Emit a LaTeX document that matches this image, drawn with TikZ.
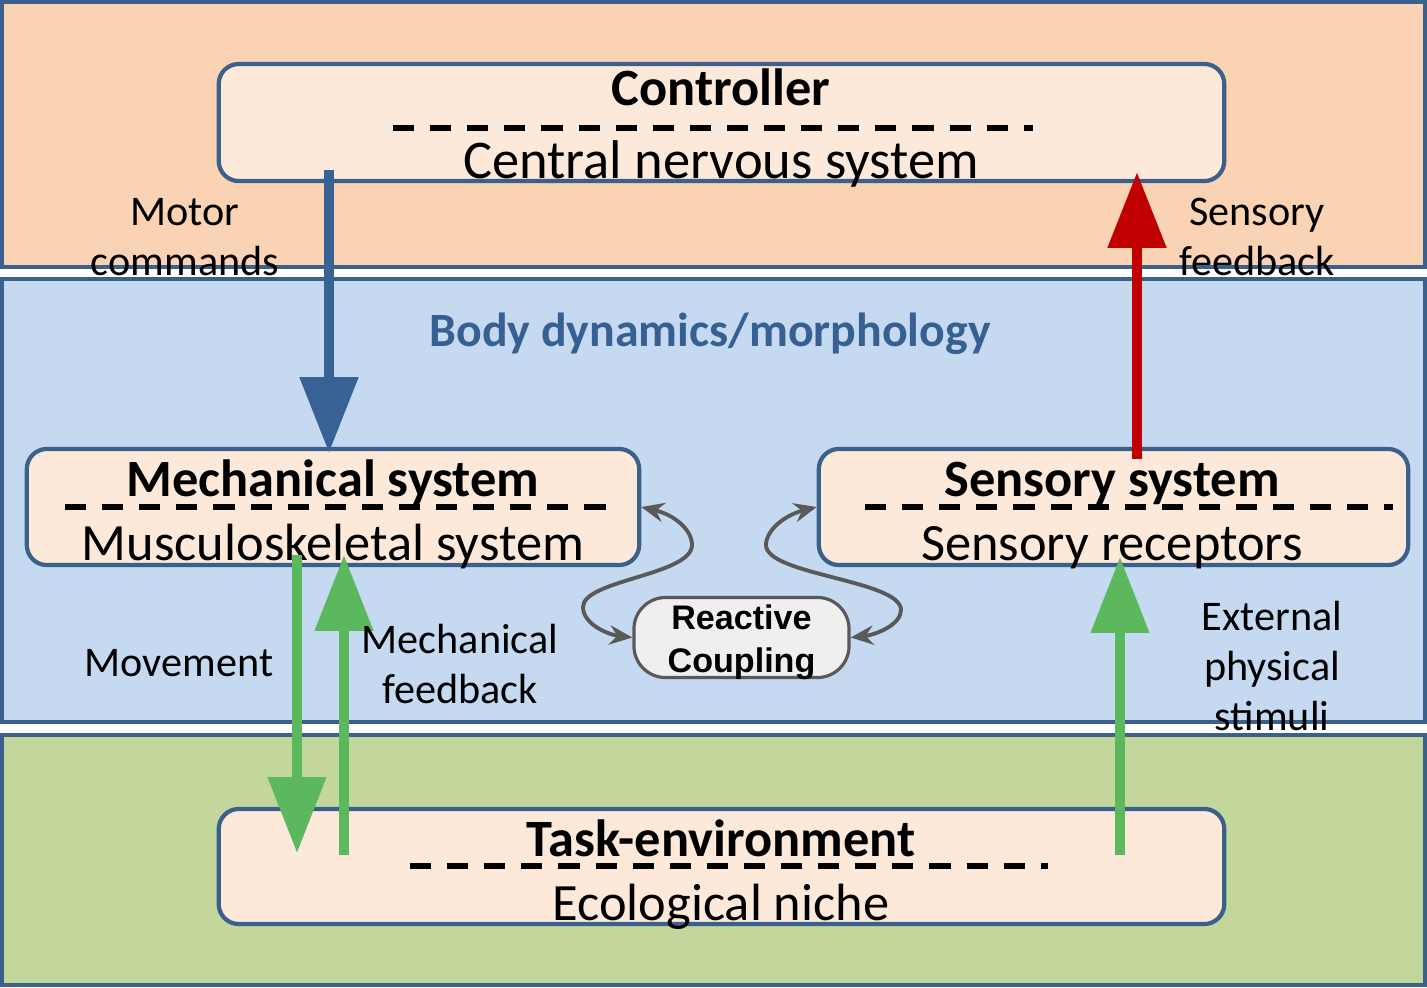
\documentclass[tikz,border=0pt]{standalone}
\usepackage{fontspec}
\setmainfont{Carlito}
\newfontfamily\arialfont{Liberation Sans}
\usetikzlibrary{arrows.meta}
\definecolor{bandorange}{RGB}{250,211,180}
\definecolor{bandblue}{RGB}{197,217,241}
\definecolor{bandgreen}{RGB}{195,214,155}
\definecolor{boxfill}{RGB}{253,233,217}
\definecolor{frameblue}{RGB}{60,96,140}
\definecolor{motorblue}{RGB}{56,98,148}
\definecolor{titleblue}{RGB}{55,96,146}
\definecolor{arrowgreen}{RGB}{92,184,92}
\definecolor{arrowred}{RGB}{192,0,0}
\definecolor{couplegray}{RGB}{89,89,89}
\definecolor{couplefill}{RGB}{239,239,239}
\begin{document}
\begin{tikzpicture}[x=0.01cm,y=-0.01cm,
  band/.style={draw=frameblue,line width=1.3pt},
  sysbox/.style={draw=frameblue,fill=boxfill,line width=1.2pt,rounded corners=5.7pt,inner sep=0pt},
  titletext/.style={font=\fontsize{14.9pt}{17pt}\selectfont\bfseries,anchor=base,inner sep=0pt},
  subtext/.style={font=\fontsize{14.9pt}{17pt}\selectfont,anchor=base,inner sep=0pt},
  lbl/.style={font=\fontsize{12pt}{14.2pt}\selectfont,align=center,inner sep=0pt},
  sepline/.style={line width=1.6pt,dash pattern=on 6pt off 4.55pt},
  bigarrow/.style={line width=#1,-{Triangle[length=21.6pt,width=16pt]}},
  couple/.style={draw=couplegray,line width=1.1pt,{Stealth[length=6.5pt,width=5.5pt,inset=2.2pt]}-{Stealth[length=6.5pt,width=5.5pt,inset=2.2pt]}}
]
\useasboundingbox (0,0) rectangle (1427,987);
% bands
\draw[band,fill=bandorange] (2,2) rectangle (1425,267);
\draw[band,fill=bandblue] (2,279) rectangle (1425,722);
\draw[band,fill=bandgreen] (2,735) rectangle (1425,985);
\node[font=\fontsize{13.6pt}{16pt}\selectfont\bfseries,text=titleblue,anchor=base,inner sep=0pt] (body) at (710,346) {Body dynamics/morphology};
% boxes
\node[sysbox,minimum width=10.05cm,minimum height=1.17cm] (ctrl) at (721.5,122.5) {};
\node[sysbox,minimum width=6.12cm,minimum height=1.16cm] (mech) at (333,507) {};
\node[sysbox,minimum width=5.89cm,minimum height=1.16cm] (sens) at (1113.5,507) {};
\node[sysbox,minimum width=10.05cm,minimum height=1.15cm] (task) at (721.5,866.5) {};
% box texts
\node[titletext] (ctrlT) at (721,105) {Controller};
\node[subtext,font=\fontsize{15.5pt}{17pt}\selectfont] (ctrlS) at (721,178) {Central nervous system};
\draw[sepline] (393,128) -- (1033,128);
\node[titletext] (mechT) at (333,496) {Mechanical system};
\node[subtext] (mechS) at (333,560) {Musculoskeletal system};
\draw[sepline] (65,507) -- (610,507);
\node[titletext] (sensT) at (1112,496) {Sensory system};
\node[subtext] (sensS) at (1112,560) {Sensory receptors};
\draw[sepline] (865,507) -- (1393,507);
\node[titletext] (taskT) at (721,856) {Task-environment};
\node[subtext] (taskS) at (721,920) {Ecological niche};
\draw[sepline] (410,866) -- (1048,866);
% reactive coupling
\node[draw=couplegray,fill=couplefill,line width=0.9pt,rounded corners=9pt,minimum width=2.15cm,minimum height=0.8cm,inner sep=0pt] (react) at (741.5,637.5) {};
\node[inner sep=0pt,align=center,font=\arialfont\fontsize{9.7pt}{12.2pt}\selectfont\bfseries] (reactT) at (741.5,642) {Reactive\\Coupling};
% coupling curves
\draw[couple] (mech.east) .. controls (675,515) and (692,530) .. (692,545)
  .. controls (692,575) and (583,580) .. (583,607)
  .. controls (583,625) and (610,635) .. (react.west);
\draw[couple] (sens.west) .. controls (785,515) and (766,530) .. (766,545)
  .. controls (766,575) and (901,580) .. (901,610)
  .. controls (901,625) and (875,635) .. (react.east);
% big arrows
\coordinate (motA) at (329,170);
\coordinate (motB) at (329,453);
\draw[bigarrow=3.1pt,draw=motorblue,fill=motorblue] (motA) -- (motB);
\coordinate (sfA) at (1137,459);
\coordinate (sfB) at (1137,172);
\draw[bigarrow=3.1pt,draw=arrowred,fill=arrowred] (sfA) -- (sfB);
\coordinate (movA) at (297,555);
\coordinate (movB) at (297,853);
\draw[bigarrow=2.85pt,draw=arrowgreen,fill=arrowgreen] (movA) -- (movB);
\coordinate (mfA) at (344,855);
\coordinate (mfB) at (344,555);
\draw[bigarrow=2.85pt,draw=arrowgreen,fill=arrowgreen] (mfA) -- (mfB);
\coordinate (exA) at (1120,855);
\coordinate (exB) at (1120,557);
\draw[bigarrow=2.85pt,draw=arrowgreen,fill=arrowgreen] (exA) -- (exB);
% labels
\node[lbl] (motL) at (185,237) {Motor\\commands};
\node[lbl] (sfL) at (1257,237) {Sensory\\feedback};
\node[lbl] (movL) at (179,663) {Movement};
\node[lbl] (mfL) at (460,664) {Mechanical\\feedback};
\node[lbl] (exL) at (1272,666) {External\\physical\\stimuli};
\end{tikzpicture}
\end{document}
